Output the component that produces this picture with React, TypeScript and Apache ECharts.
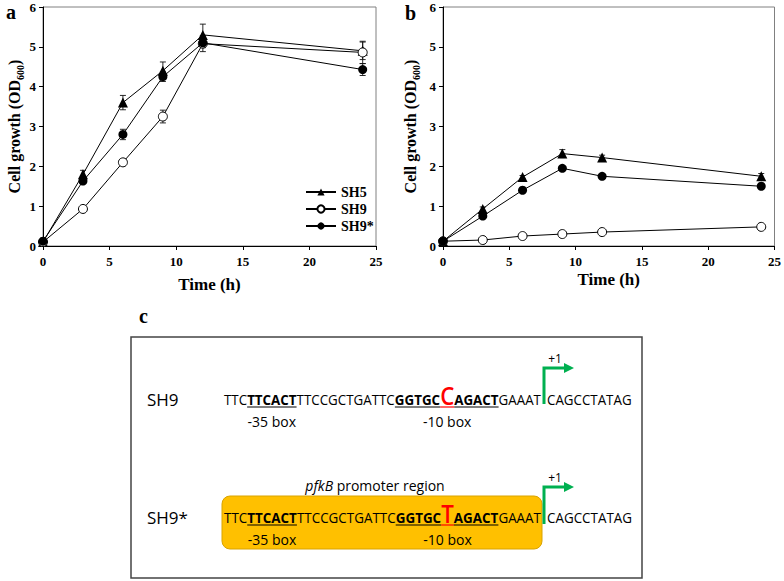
import React, { useEffect, useRef } from "react";
import * as echarts from "echarts";

// ---------- data ----------
const timeH = [0, 3, 6, 9, 12, 24];

// panel a
const aSH5 = [0.1, 1.8, 3.6, 4.4, 5.3, 4.9];
const aSH5Err = [0.03, 0.1, 0.18, 0.22, 0.27, 0.22];
const aSH9 = [0.1, 0.93, 2.1, 3.25, 5.08, 4.86];
const aSH9Err = [0.02, 0.03, 0.08, 0.16, 0.2, 0.28];
const aSH9s = [0.12, 1.63, 2.8, 4.25, 5.1, 4.43];
const aSH9sErr = [0.02, 0.06, 0.13, 0.12, 0.12, 0.15];

// panel b
const bSH5 = [0.12, 0.93, 1.73, 2.32, 2.22, 1.75];
const bSH5Err = [0.02, 0.05, 0.04, 0.1, 0.06, 0.07];
const bSH9 = [0.12, 0.15, 0.25, 0.3, 0.35, 0.48];
const bSH9Err = [0.01, 0.01, 0.02, 0.02, 0.02, 0.03];
const bSH9s = [0.12, 0.75, 1.4, 1.95, 1.75, 1.5];
const bSH9sErr = [0.02, 0.04, 0.05, 0.05, 0.04, 0.05];

const strainNames = ["SH5", "SH9", "SH9*"];

// panel c sequence pieces
const seqPre = "TTC";
const box35 = "TTCACT";
const seqMid = "TTCCGCTGATTC";
const box10a = "GGTGC";
const box10b = "AGACT";
const seqPost = "GAAAT";
const seqAfter = "CAGCCTATAG";
const mutSH9 = "C";
const mutSH9s = "T";

const serif = "Liberation Serif";
const sans = "Open Sans";

function errData(v: number[], e: number[]) {
  return timeH.map((t, i) => [t, v[i] - e[i], v[i] + e[i]]);
}

function errorSeries(idx: number, v: number[], e: number[], z: number) {
  return {
    type: "custom",
    xAxisIndex: idx,
    yAxisIndex: idx,
    z,
    silent: true,
    encode: { x: 0, y: [1, 2] },
    data: errData(v, e),
    renderItem: (params: any, api: any) => {
      const x = api.value(0);
      const lo = api.coord([x, api.value(1)]);
      const hi = api.coord([x, api.value(2)]);
      const c = 3;
      const st = { stroke: "#111", lineWidth: 0.9 };
      return {
        type: "group",
        children: [
          { type: "line", shape: { x1: lo[0], y1: lo[1], x2: hi[0], y2: hi[1] }, style: st },
          { type: "line", shape: { x1: hi[0] - c, y1: hi[1], x2: hi[0] + c, y2: hi[1] }, style: st },
          { type: "line", shape: { x1: lo[0] - c, y1: lo[1], x2: lo[0] + c, y2: lo[1] }, style: st },
        ],
      };
    },
  };
}

function lineSeries(idx: number, name: string, v: number[], z: number) {
  const styles: any = {
    SH5: { symbol: "triangle", symbolSize: 10, itemStyle: { color: "#000" } },
    SH9: { symbol: "circle", symbolSize: 9, itemStyle: { color: "#fff", borderColor: "#000", borderWidth: 1 } },
    "SH9*": { symbol: "circle", symbolSize: 9, itemStyle: { color: "#000" } },
  };
  return {
    type: "line",
    name,
    xAxisIndex: idx,
    yAxisIndex: idx,
    z,
    data: timeH.map((t, i) => [t, v[i]]),
    lineStyle: { color: "#000", width: 1 },
    ...styles[name],
  };
}

function xAxis(gridIndex: number, nameGap: number) {
  return {
    type: "value",
    gridIndex,
    min: 0,
    max: 25,
    interval: 5,
    name: "Time (h)",
    nameLocation: "middle",
    nameGap,
    nameTextStyle: { fontFamily: serif, fontWeight: "bold", fontSize: 17, color: "#000" },
    axisLine: { show: true, onZero: false, lineStyle: { color: "#000", width: 1 } },
    axisTick: { show: true, length: 4, lineStyle: { color: "#000" } },
    axisLabel: { fontFamily: serif, fontWeight: "bold", fontSize: 13, color: "#000", margin: 9 },
    splitLine: { show: false },
  };
}

function yAxis(gridIndex: number, nameGap: number) {
  return {
    type: "value",
    gridIndex,
    min: 0,
    max: 6,
    interval: 1,
    name: "{a|Cell growth (OD}{s|600}{a|)}",
    nameLocation: "middle",
    nameGap,
    nameTextStyle: {
      rich: {
        a: { fontFamily: serif, fontWeight: "bold", fontSize: 16, color: "#000", lineHeight: 22, verticalAlign: "middle" },
        s: { fontFamily: serif, fontWeight: "bold", fontSize: 10, color: "#000", lineHeight: 16, verticalAlign: "bottom" },
      },
    },
    axisLine: { show: true, lineStyle: { color: "#000", width: 1 } },
    axisTick: { show: true, length: 4, lineStyle: { color: "#000" } },
    axisLabel: { fontFamily: serif, fontWeight: "bold", fontSize: 13, color: "#000", margin: 7 },
    splitLine: { show: false },
  };
}

function buildPanelC(): any[] {
  const canvas = document.createElement("canvas");
  const ctx = canvas.getContext("2d") as CanvasRenderingContext2D;
  const meas = (t: string, size: number, weight: string) => {
    ctx.font = `${weight} ${size}px "${sans}"`;
    return ctx.measureText(t).width;
  };
  const fs = 15;
  const fsBig = 25;
  const x0 = 224;
  const xEnd = 541;
  const xAfter = 547;
  const els: any[] = [];

  const seqLine = (y: number, mut: string, labelName: string) => {
    const pieces = [
      { t: seqPre, w: "normal", u: false, red: false },
      { t: box35, w: "bold", u: true, red: false },
      { t: seqMid, w: "normal", u: false, red: false },
      { t: box10a, w: "bold", u: true, red: false },
      { t: mut, w: "600", u: true, red: true, big: true },
      { t: box10b, w: "bold", u: true, red: false },
      { t: seqPost, w: "normal", u: false, red: false },
    ];
    const widths = pieces.map((p: any) => meas(p.t, p.big ? fsBig : fs, p.w));
    const total = widths.reduce((a, b) => a + b, 0);
    const sx = (xEnd - x0) / total;
    let cx = 0;
    const centers: number[] = [];
    pieces.forEach((p: any, i) => {
      const X = x0 + cx * sx;
      const size = p.big ? fsBig : fs;
      const yy = p.big ? y + 0.388 * (fs - fsBig) : y;
      els.push({
        type: "text",
        x: X,
        y: yy,
        scaleX: sx,
        style: {
          text: p.t,
          fontFamily: sans,
          fontSize: size,
          fontWeight: p.w,
          fill: p.red ? "#FF0000" : "#000",
          align: "left",
          verticalAlign: "middle",
        },
      });
      if (p.u) {
        els.push({
          type: "line",
          shape: { x1: X, y1: y + 8, x2: X + widths[i] * sx, y2: y + 8 },
          style: { stroke: p.red ? "#FF0000" : "#000", lineWidth: 1.2 },
        });
      }
      centers.push(X + (widths[i] * sx) / 2);
      cx += widths[i];
    });
    els.push({
      type: "text",
      x: xAfter,
      y,
      scaleX: sx,
      style: { text: seqAfter, fontFamily: sans, fontSize: fs, fill: "#000", align: "left", verticalAlign: "middle" },
    });
    // box labels
    els.push({
      type: "text",
      x: centers[1],
      y: y + 22,
      style: { text: "-35 box", fontFamily: sans, fontSize: 14, fill: "#000", align: "center", verticalAlign: "middle" },
    });
    els.push({
      type: "text",
      x: centers[4],
      y: y + 22,
      style: { text: "-10 box", fontFamily: sans, fontSize: 14, fill: "#000", align: "center", verticalAlign: "middle" },
    });
    // strain label
    els.push({
      type: "text",
      x: 147,
      y,
      style: { text: labelName, fontFamily: sans, fontSize: 17, fill: "#000", align: "left", verticalAlign: "middle" },
    });
  };

  const arrow = (yTop: number, yBottom: number) => {
    const green = "#00B050";
    els.push({
      type: "polyline",
      shape: { points: [[544, yBottom], [544, yTop], [565, yTop]] },
      style: { stroke: green, lineWidth: 3, fill: "none" },
    });
    els.push({
      type: "polygon",
      shape: { points: [[564, yTop - 5], [574, yTop], [564, yTop + 5]] },
      style: { fill: green },
    });
    els.push({
      type: "text",
      x: 555,
      y: yTop - 10,
      style: { text: "+1", fontFamily: sans, fontSize: 12, fill: "#000", align: "center", verticalAlign: "middle" },
    });
  };

  // outer frame
  els.push({
    type: "rect",
    shape: { x: 131, y: 337, width: 511, height: 241 },
    style: { fill: "none", stroke: "#444", lineWidth: 1.5 },
  });
  // promoter highlight
  els.push({
    type: "rect",
    shape: { x: 222, y: 496, width: 320, height: 53, r: 8 },
    style: { fill: "#FFC000", stroke: "#D9A300", lineWidth: 1 },
  });
  els.push({
    type: "text",
    x: 375,
    y: 485,
    style: {
      text: "{i|pfkB} promoter region",
      fontFamily: sans,
      fontSize: 14,
      fill: "#000",
      align: "center",
      verticalAlign: "middle",
      rich: { i: { fontFamily: sans, fontSize: 14, fontStyle: "italic", fill: "#000" } },
    },
  });
  seqLine(399, mutSH9, "SH9");
  seqLine(517, mutSH9s, "SH9*");
  arrow(368, 404);
  arrow(487, 524);

  // panel letters
  const letter = (t: string, x: number, y: number) =>
    els.push({
      type: "text",
      x,
      y,
      style: { text: t, fontFamily: serif, fontWeight: "bold", fontSize: 20, fill: "#000", align: "left", verticalAlign: "middle" },
    });
  letter("a", 6, 12);
  letter("b", 405, 13);
  letter("c", 139, 316);
  return els;
}

export default function App() {
  const ref = useRef<HTMLDivElement>(null);
  useEffect(() => {
    const chart = echarts.init(ref.current as HTMLDivElement, null, { renderer: "svg" });
    const grids = [
      { left: 43, top: 7, width: 333, height: 239, show: true, borderColor: "#808080", borderWidth: 1 },
      { left: 443, top: 7, width: 333, height: 239, show: true, borderColor: "#808080", borderWidth: 1 },
    ];
    const series: any[] = [
      errorSeries(0, aSH5, aSH5Err, 1),
      errorSeries(0, aSH9, aSH9Err, 1),
      errorSeries(0, aSH9s, aSH9sErr, 1),
      lineSeries(0, strainNames[0], aSH5, 3),
      lineSeries(0, strainNames[1], aSH9, 4),
      lineSeries(0, strainNames[2], aSH9s, 5),
      errorSeries(1, bSH5, bSH5Err, 1),
      errorSeries(1, bSH9, bSH9Err, 1),
      errorSeries(1, bSH9s, bSH9sErr, 1),
      lineSeries(1, strainNames[0], bSH5, 3),
      lineSeries(1, strainNames[1], bSH9, 4),
      lineSeries(1, strainNames[2], bSH9s, 5),
    ];
    chart.setOption({
      animation: false,
      backgroundColor: "#fff",
      grid: grids,
      xAxis: [xAxis(0, 30), xAxis(1, 25)],
      yAxis: [yAxis(0, 15), yAxis(1, 22)],
      legend: {
        data: strainNames,
        orient: "vertical",
        left: 300,
        top: 180,
        itemWidth: 30,
        itemHeight: 9,
        itemGap: 3,
        selectedMode: false,
        textStyle: { fontFamily: serif, fontWeight: "bold", fontSize: 14, color: "#000" },
      },
      series,
      graphic: buildPanelC(),
    });
    return () => chart.dispose();
  }, []);
  return (
    <div
      ref={ref}
      style={{ position: "absolute", left: 0, top: 0, width: 784, height: 581, background: "#fff" }}
    />
  );
}
